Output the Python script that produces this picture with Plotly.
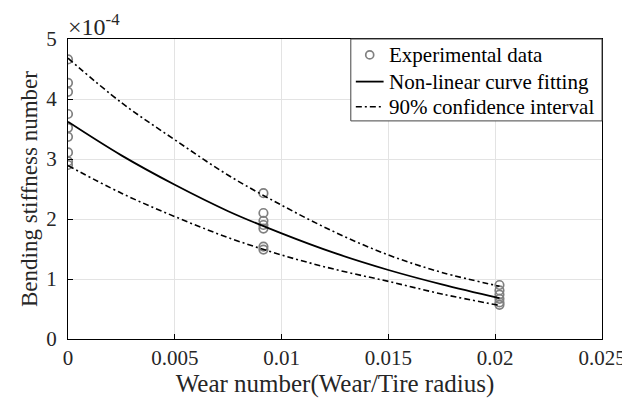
import plotly.graph_objects as go

# values in units of 1e-4
exp_x = [0.0]*9 + [0.00915]*7 + [0.0202]*6
exp_y = [4.66, 4.27, 4.12, 3.75, 3.52, 3.37, 3.11, 2.96, 2.90,
         2.43, 2.10, 1.97, 1.90, 1.84, 1.54, 1.49,
         0.90, 0.81, 0.74, 0.67, 0.61, 0.57]

curve_x = [0.0, 0.0025, 0.005, 0.0075, 0.01, 0.0125, 0.015, 0.0175, 0.0202]
fit_y = [3.62, 3.06, 2.57, 2.13, 1.76, 1.43, 1.15, 0.91, 0.68]
upper_y = [4.68, 3.94, 3.32, 2.73, 2.23, 1.78, 1.40, 1.11, 0.88]
lower_y = [2.89, 2.43, 2.04, 1.69, 1.40, 1.16, 0.96, 0.75, 0.56]

x_ticks = [0, 0.005, 0.01, 0.015, 0.02, 0.025]
x_ticktext = ["0", "0.005", "0.01", "0.015", "0.02", "0.025"]
y_ticks = [0, 1, 2, 3, 4, 5]

legend_labels = ["Experimental data", "Non-linear curve fitting", "90% confidence interval"]

FONT = "Liberation Serif"
GRAY = "#808080"
DASH = "6px,3px,2px,3px"

fig = go.Figure()
fig.add_trace(go.Scatter(x=exp_x, y=exp_y, mode="markers", name=legend_labels[0],
                         marker=dict(symbol="circle-open", size=8.5, color=GRAY,
                                     line=dict(width=1.7, color=GRAY))))
fig.add_trace(go.Scatter(x=curve_x, y=fit_y, mode="lines", name=legend_labels[1],
                         line=dict(color="black", width=1.8, shape="spline")))
fig.add_trace(go.Scatter(x=curve_x, y=upper_y, mode="lines", name=legend_labels[2],
                         line=dict(color="black", width=1.6, dash=DASH, shape="spline")))
fig.add_trace(go.Scatter(x=curve_x, y=lower_y, mode="lines", name="lower",
                         line=dict(color="black", width=1.6, dash=DASH, shape="spline")))

axis_common = dict(showline=True, linecolor="black", linewidth=1, mirror=True,
                   ticks="inside", ticklen=5, tickcolor="black",
                   showgrid=True, gridcolor="#e3e3e3", gridwidth=1, zeroline=False,
                   tickfont=dict(family=FONT, size=21, color="#262626"))

fig.update_layout(
    width=630, height=403,
    margin=dict(l=60, r=30, t=31, b=72),
    paper_bgcolor="white", plot_bgcolor="white",
    font=dict(family=FONT, color="#262626"),
    showlegend=False,
    xaxis=dict(range=[0, 0.025], tickvals=x_ticks, ticktext=x_ticktext,
               title=dict(text="Wear number(Wear/Tire radius)", standoff=4,
                          font=dict(family=FONT, size=25, color="#262626")),
               **axis_common),
    yaxis=dict(range=[0, 5], tickvals=y_ticks, ticklabelstandoff=6,
               title=dict(text="Bending stiffness number", standoff=2,
                          font=dict(family=FONT, size=23, color="#262626")),
               **axis_common),
)

fig.add_annotation(xref="paper", yref="paper", x=0, y=1, xanchor="left", yanchor="bottom",
                   text="×10<sup>-4</sup>", showarrow=False, xshift=-2, yshift=-3,
                   font=dict(family=FONT, size=24, color="#262626"))

# legend box (drawn manually to match compact MATLAB legend)
lx0, lx1, ly0, ly1 = 0.5296, 1.0, 0.727, 1.0
fig.add_shape(type="rect", xref="paper", yref="paper", x0=lx0, x1=lx1, y0=ly0, y1=ly1,
              line=dict(color="#444444", width=1), fillcolor="white", layer="above")
rows = [0.947, 0.858, 0.774]
sx0, sx1, sxc, tx = 0.539, 0.591, 0.565, 0.598
fig.add_shape(type="circle", xref="paper", yref="paper", xsizemode="pixel", ysizemode="pixel",
              xanchor=sxc, yanchor=rows[0], x0=-4, x1=4, y0=-4, y1=4,
              line=dict(color=GRAY, width=1.7), layer="above")
fig.add_shape(type="line", xref="paper", yref="paper", x0=sx0, x1=sx1, y0=rows[1], y1=rows[1],
              line=dict(color="black", width=1.8), layer="above")
fig.add_shape(type="line", xref="paper", yref="paper", x0=sx0, x1=sx1, y0=rows[2], y1=rows[2],
              line=dict(color="black", width=1.6, dash=DASH), layer="above")
for lab, ry in zip(legend_labels, rows):
    fig.add_annotation(xref="paper", yref="paper", x=tx, y=ry, xanchor="left", yanchor="middle",
                       text=lab, showarrow=False, font=dict(family=FONT, size=21, color="black"))

fig.write_html("out.html")
